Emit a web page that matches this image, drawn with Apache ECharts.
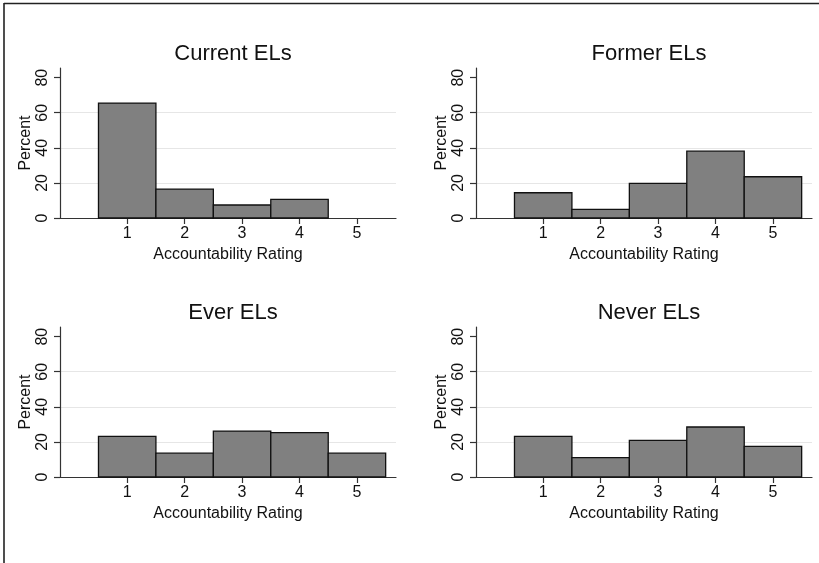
<!DOCTYPE html>
<html>
<head>
<meta charset="utf-8">
<title>Accountability Rating</title>
<script src="https://cdn.jsdelivr.net/npm/echarts@6/dist/echarts.min.js"></script>
<style>
  html, body { margin: 0; padding: 0; background: #fff; }
  #histograms { width: 819px; height: 563px; }
</style>
</head>
<body>
<div id="histograms"></div>
<script>
  // rating categories and percent per group
  const ratings = [1, 2, 3, 4, 5]
  const currentELs = [65.5, 16.5, 7.4, 10.6, 0]
  const formerELs = [14.4, 4.9, 19.7, 38.1, 23.5]
  const everELs = [23.2, 13.6, 26.2, 25.3, 13.6]
  const neverELs = [23.2, 11.1, 20.9, 28.5, 17.5]
  const panelTitles = ['Current ELs', 'Former ELs', 'Ever ELs', 'Never ELs']
  const yTicks = [0, 20, 40, 60, 80]

  const groups = [currentELs, formerELs, everELs, neverELs]
  const font = 'Liberation Sans, Arial, Helvetica, sans-serif'
  const axisColor = '#333'

  // panel boxes: left, top
  const boxes = [[60, 68], [476, 68], [60, 327], [476, 327]]
  const boxW = 336
  const boxH = 150

  function renderBar(params, api) {
    const x = api.value(0)
    const y = api.value(1)
    if (!y) return null
    const p0 = api.coord([x - 0.5, y])
    const p1 = api.coord([x + 0.5, 0])
    return {
      type: 'rect',
      shape: { x: p0[0], y: p0[1], width: p1[0] - p0[0], height: p1[1] - p0[1] },
      style: { fill: '#808080', stroke: '#111', lineWidth: 1.3 }
    }
  }

  const option = {
    animation: false,
    backgroundColor: '#fff',
    textStyle: { fontFamily: font },
    title: [],
    grid: [],
    xAxis: [],
    yAxis: [],
    series: [],
    graphic: [
      { type: 'line', shape: { x1: 4, y1: 3.5, x2: 819, y2: 3.5 }, style: { stroke: '#222', lineWidth: 1.6 } },
      { type: 'line', shape: { x1: 4, y1: 3, x2: 4, y2: 563 }, style: { stroke: '#222', lineWidth: 1.6 } }
    ]
  }

  for (let i = 0; i < groups.length; i++) {
    const left = boxes[i][0]
    const top = boxes[i][1]
    option.title.push({
      text: panelTitles[i],
      left: left + boxW / 2,
      top: top - 30,
      textAlign: 'center',
      textStyle: { fontFamily: font, fontSize: 22, fontWeight: 'normal', color: '#111' }
    })
    option.grid.push({ left: left, top: top, width: boxW, height: boxH })
    option.xAxis.push({
      type: 'value',
      gridIndex: i,
      min: -0.17,
      max: 5.68,
      name: 'Accountability Rating',
      nameLocation: 'middle',
      nameGap: 29,
      nameMoveOverlap: false,
      nameTextStyle: { fontFamily: font, fontSize: 16, color: '#111' },
      axisLine: { show: true, onZero: false, lineStyle: { color: axisColor, width: 1.2 } },
      axisTick: { show: true, length: 6, customValues: ratings, lineStyle: { color: axisColor, width: 1.2 } },
      axisLabel: { customValues: ratings, margin: 8, fontSize: 16, color: '#111', fontFamily: font },
      splitLine: { show: false }
    })
    option.yAxis.push({
      type: 'value',
      gridIndex: i,
      min: 0,
      max: 85.5,
      interval: 20,
      name: 'Percent',
      nameLocation: 'middle',
      nameGap: 26,
      nameMoveOverlap: false,
      nameTextStyle: { fontFamily: font, fontSize: 16, color: '#111' },
      axisLine: { show: true, onZero: false, lineStyle: { color: axisColor, width: 1.2 } },
      axisTick: { show: true, length: 6, customValues: yTicks, lineStyle: { color: axisColor, width: 1.2 } },
      axisLabel: { customValues: yTicks, rotate: 90, margin: 9, fontSize: 16, color: '#111', fontFamily: font },
      splitLine: {
        show: true,
        lineStyle: { color: ['transparent', '#e6e6e6', '#e6e6e6', '#e6e6e6', 'transparent', 'transparent'], width: 1 }
      }
    })
    const data = []
    for (let k = 0; k < ratings.length; k++) {
      data.push([ratings[k], groups[i][k]])
    }
    option.series.push({
      type: 'custom',
      xAxisIndex: i,
      yAxisIndex: i,
      renderItem: renderBar,
      encode: { x: 0, y: 1 },
      data: data
    })
  }

  function initChart() {
    const chart = echarts.init(document.getElementById('histograms'))
    chart.setOption(option)
  }
  initChart()
</script>
</body>
</html>
